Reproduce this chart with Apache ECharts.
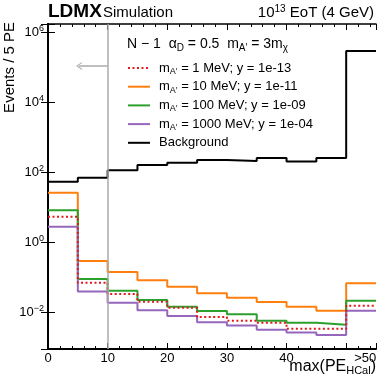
<!DOCTYPE html>
<html>
<head>
<meta charset="utf-8">
<script src="https://cdn.jsdelivr.net/npm/echarts@6/dist/echarts.min.js"></script>
<style>
html, body { margin: 0; padding: 0; background: #fff; }
#chart { width: 380px; height: 386px; }
</style>
</head>
<body>
<div id="chart"></div>
<script>
// 5 PE bins, the last one (50-55) holds everything above 50
var binEdges = [0, 5, 10, 15, 20, 25, 30, 35, 40, 45, 50, 55]
var xTickValues = [0, 10, 20, 30, 40, 50]
var xTickLabels = ['0', '10', '20', '30', '40', '>50']
var yTickExps = [-2, 0, 2, 4, 6]

var seriesNames = ['1 MeV', '10 MeV', '100 MeV', '1000 MeV', 'Background']
var legendLabels = [
  '{m|m}{sub|A\u2032} = 1 MeV; y = 1e-13',
  '{m|m}{sub|A\u2032} = 10 MeV; y = 1e-11',
  '{m|m}{sub|A\u2032} = 100 MeV; y = 1e-09',
  '{m|m}{sub|A\u2032} = 1000 MeV; y = 1e-04',
  '{m|Background}'
]

var sig1MeV = [5.28, 0.0687, 0.0327, 0.0197, 0.0133, 0.0072, 0.0056, 0.0049, 0.0033, 0.0033, 0.0151]
var sig10MeV = [25.6, 0.286, 0.139, 0.0805, 0.0528, 0.0342, 0.0256, 0.0193, 0.0142, 0.0109, 0.066]
var sig100MeV = [8.05, 0.0877, 0.0406, 0.022, 0.0142, 0.0107, 0.0086, 0.0056, 0.0049, 0.0043, 0.021]
var sig1000MeV = [2.74, 0.0385, 0.0184, 0.0112, 0.0077, 0.0051, 0.0041, 0.0031, 0.0026, 0.0022, 0.0109]
var background = [52.8, 68.7, 112, 158, 184, 220, 205, 250, 200, 250, 287000]

var font = 'Liberation Sans, Arial, Helvetica, sans-serif'

function steps (vals) {
  // one point per left edge, plus the right edge of the last bin
  return binEdges.map(function (e, i) {
    return [e, vals[Math.min(i, vals.length - 1)]]
  })
}

function hist (idx, vals, color, dash) {
  return {
    name: seriesNames[idx],
    type: 'line',
    step: 'end',
    symbol: 'none',
    silent: true,
    data: steps(vals),
    itemStyle: { color: color },
    lineStyle: { color: color, width: 2, type: dash || 'solid' }
  }
}

function yLabel (v) {
  var e = Math.log10(v)
  var r = Math.round(e)
  if (Math.abs(e - r) > 1e-6 || yTickExps.indexOf(r) < 0) return ''
  return '10{sup|' + (r < 0 ? '\u2212' + (-r) : r) + '}'
}

function xLabel (v) {
  var i = xTickValues.indexOf(v)
  if (i < 0) return ''
  if (v === 50) return '{o|' + xTickLabels[i] + '}'
  return xTickLabels[i]
}

var yMin = Math.pow(10, -3.057)
var yMax = Math.pow(10, 6.229)

var bgSeries = hist(4, background, '#000000')
bgSeries.markLine = {
  silent: true,
  animation: false,
  symbol: ['none', 'none'],
  label: { show: false },
  lineStyle: { color: '#aaaaaa', width: 1.5, type: 'solid' },
  data: [
    { xAxis: 10 },
    [
      { coord: [10, 1.07e5], symbol: 'none' },
      { coord: [5.2, 1.07e5], symbol: 'path://M0,10 L5,0 L10,10 L8.6,10 L5,2.8 L1.4,10 Z', symbolSize: [8, 6] }
    ]
  ]
}

var option = {
  animation: false,
  backgroundColor: '#ffffff',
  textStyle: { fontFamily: font },
  grid: { left: 48, right: 4, top: 24, bottom: 37, outerBoundsMode: 'none' },
  xAxis: [{
    type: 'value',
    min: 0,
    max: 55,
    interval: 10,
    position: 'bottom',
    axisLine: { lineStyle: { color: '#000', width: 2 } },
    axisTick: { show: true, inside: true, length: 6, lineStyle: { color: '#000' } },
    minorTick: { show: true, splitNumber: 5, length: 3, lineStyle: { color: '#000' } },
    splitLine: { show: false },
    axisLabel: {
      formatter: xLabel,
      margin: 3,
      fontSize: 13,
      color: '#000',
      fontFamily: font,
      rich: { o: { fontSize: 13, fontFamily: font, padding: [0, 0, 0, 38] } }
    }
  }, {
    type: 'value',
    min: 0,
    max: 55,
    interval: 10,
    position: 'top',
    axisLine: { lineStyle: { color: '#000', width: 1.5 } },
    axisTick: { show: true, inside: true, length: 6, lineStyle: { color: '#000' } },
    minorTick: { show: true, splitNumber: 5, length: 3, lineStyle: { color: '#000' } },
    splitLine: { show: false },
    axisLabel: { show: false }
  }],
  yAxis: [{
    type: 'log',
    logBase: 100,
    min: yMin,
    max: yMax,
    position: 'left',
    axisLine: { show: true, lineStyle: { color: '#000', width: 2 } },
    axisTick: { show: true, inside: true, length: 7, lineStyle: { color: '#000' } },
    splitLine: { show: false },
    axisLabel: {
      formatter: yLabel,
      margin: 4,
      fontSize: 13,
      lineHeight: 16,
      color: '#000',
      fontFamily: font,
      rich: { sup: { fontSize: 9, lineHeight: 7, verticalAlign: 'top', fontFamily: font } }
    }
  }, {
    type: 'log',
    logBase: 100,
    min: yMin,
    max: yMax,
    position: 'right',
    axisLine: { show: true, lineStyle: { color: '#000', width: 2 } },
    axisTick: { show: true, inside: true, length: 7, lineStyle: { color: '#000' } },
    splitLine: { show: false },
    axisLabel: { show: false }
  }],
  legend: {
    orient: 'vertical',
    left: 122,
    top: 55,
    itemWidth: 22,
    itemHeight: 14,
    itemGap: 2.7,
    selectedMode: false,
    itemStyle: { opacity: 0 },
    data: seriesNames,
    formatter: function (name) {
      return legendLabels[seriesNames.indexOf(name)]
    },
    textStyle: {
      fontSize: 13,
      lineHeight: 16,
      color: '#000',
      fontFamily: font,
      rich: {
        m: { fontSize: 13, lineHeight: 16, fontFamily: font, padding: [0, 0, 0, 4] },
        sub: { fontSize: 9, lineHeight: 8, verticalAlign: 'bottom', fontFamily: font }
      }
    }
  },
  graphic: [
    { type: 'text', x: 48, y: 12, style: { text: 'LDMX', fontSize: 19, fontWeight: 'bold', fontFamily: font, fill: '#000', verticalAlign: 'middle' } },
    { type: 'text', x: 103, y: 13, style: { text: 'Simulation', fontSize: 15, fontFamily: font, fill: '#000', verticalAlign: 'middle' } },
    {
      type: 'text', x: 374, y: 13,
      style: {
        text: '10{sup|13} EoT (4 GeV)', fontSize: 15, lineHeight: 18, fontFamily: font, fill: '#000',
        align: 'right', verticalAlign: 'middle',
        rich: { sup: { fontSize: 10, lineHeight: 9, verticalAlign: 'top', fontFamily: font } }
      }
    },
    {
      type: 'text', x: 127, y: 44,
      style: {
        text: 'N \u2212 1  \u03b1{sub|D} = 0.5  m{sub|A\u2032} = 3m{sub|\u03c7}',
        fontSize: 14, lineHeight: 18, fontFamily: font, fill: '#000', verticalAlign: 'middle',
        rich: { sub: { fontSize: 10, lineHeight: 10, verticalAlign: 'bottom', fontFamily: font } }
      }
    },
    {
      type: 'text', x: 10, y: 22, rotation: Math.PI / 2,
      style: { text: 'Events / 5 PE', fontSize: 15, fontFamily: font, fill: '#000', align: 'right', verticalAlign: 'middle' }
    },
    {
      type: 'text', x: 376, y: 367,
      style: {
        text: 'max(PE{sub|HCal})', fontSize: 16, lineHeight: 18, fontFamily: font, fill: '#000',
        align: 'right', verticalAlign: 'middle',
        rich: { sub: { fontSize: 11, lineHeight: 10, verticalAlign: 'bottom', fontFamily: font } }
      }
    }
  ],
  series: [
    bgSeries,
    hist(1, sig10MeV, '#ff7f0e'),
    hist(2, sig100MeV, '#2ca02c'),
    hist(3, sig1000MeV, '#9467bd'),
    hist(0, sig1MeV, '#e3191c', [2, 2.5])
  ]
}

var chart = echarts.init(document.getElementById('chart'), null, { renderer: 'canvas' })
chart.setOption(option)
</script>
</body>
</html>
